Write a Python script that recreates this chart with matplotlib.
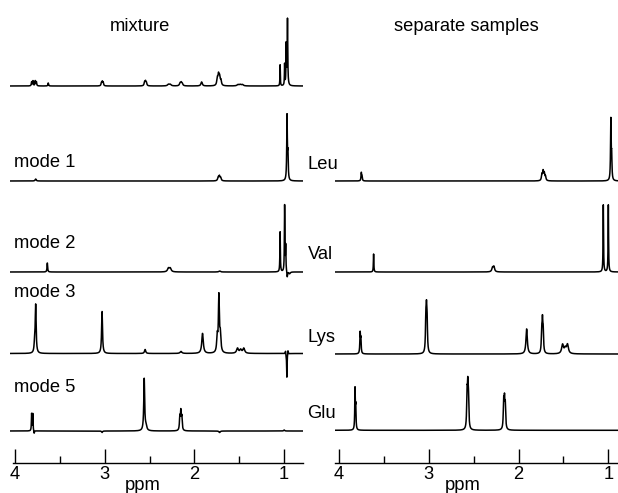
import numpy as np
import matplotlib
matplotlib.use("Agg")
import matplotlib.pyplot as plt
from matplotlib.ticker import MultipleLocator

plt.rcParams['font.family'] = ['Liberation Sans', 'DejaVu Sans']

# ---------------- data: peak lists (ppm, height in px, half-width ppm) -------------
mix_ppm = [3.815, 3.80, 3.775, 3.762, 3.63, 3.037, 3.027, 3.017, 2.556, 2.546, 2.536,
           2.29, 2.27, 2.16, 2.148, 2.136, 1.92, 1.745, 1.732, 1.72, 1.705,
           1.515, 1.49, 1.465, 1.045, 0.995, 0.977, 0.963]
mix_h = [4, 5, 5, 4, 3, 3, 4, 3, 3.5, 4, 3,
         1.5, 1.5, 2.5, 3, 2, 4, 7, 10, 8, 5,
         1.3, 1.3, 1.3, 21, 21, 40, 66]
mix_w = [0.004, 0.004, 0.004, 0.004, 0.004, 0.005, 0.005, 0.005, 0.006, 0.006, 0.006,
         0.012, 0.012, 0.008, 0.008, 0.008, 0.009, 0.007, 0.007, 0.007, 0.007,
         0.012, 0.012, 0.012, 0.0025, 0.0025, 0.003, 0.0035]

m1_ppm = [3.77, 1.735, 1.722, 1.708, 0.968, 0.958]
m1_h = [2, 3.5, 4.5, 3, 64, 24]
m1_w = [0.007, 0.007, 0.007, 0.007, 0.004, 0.004]

m2_ppm = [3.64, 2.29, 2.27, 1.72, 1.045, 0.995, 0.983, 0.966, 0.94]
m2_h = [9, 3.5, 3.5, 1, 40, 66, 25, -6, -2]
m2_w = [0.004, 0.012, 0.012, 0.01, 0.003, 0.003, 0.003, 0.004, 0.01]

m3_ppm = [3.782, 3.77, 3.03, 2.55, 2.15, 1.91, 1.746, 1.728, 1.712,
          1.52, 1.485, 1.45, 0.985, 0.97, 0.958]
m3_h = [8, 48, 42, 4, 2, 20, 16, 55, 18,
        5, 3.5, 5, 3, -24, 4]
m3_w = [0.006, 0.006, 0.006, 0.008, 0.012, 0.01, 0.007, 0.006, 0.008,
        0.012, 0.012, 0.012, 0.003, 0.003, 0.003]

m5_ppm = [3.815, 3.802, 3.787, 3.03, 2.56, 2.54, 2.163, 2.152, 2.141, 1.72, 1.0]
m5_h = [17, 17, -3, -1.5, 52, 4, 13, 18, 13, -1.5, 1]
m5_w = [0.003, 0.003, 0.004, 0.006, 0.006, 0.01, 0.005, 0.005, 0.005, 0.008, 0.006]

leu_ppm = [3.752, 3.744, 1.74, 1.727, 1.714, 1.70, 0.972, 0.963]
leu_h = [8, 4, 6, 9, 7, 4, 60, 22]
leu_w = [0.004, 0.004, 0.006, 0.006, 0.006, 0.006, 0.004, 0.004]

val_ppm = [3.615, 2.29, 2.275, 1.056, 1.0]
val_h = [18, 4, 5, 67, 67]
val_w = [0.003, 0.009, 0.009, 0.003, 0.003]

lys_ppm = [3.765, 3.757, 3.033, 3.026, 3.019, 1.91, 1.742, 1.734, 1.726,
           1.51, 1.48, 1.455]
lys_h = [20, 14, 30, 35, 27, 25, 20, 28, 20, 9, 5, 9]
lys_w = [0.004, 0.004, 0.005, 0.005, 0.005, 0.009, 0.005, 0.005, 0.005,
         0.012, 0.012, 0.012]

glu_ppm = [3.822, 3.814, 2.574, 2.566, 2.558, 2.166, 2.157, 2.148]
glu_h = [40, 22, 32, 37, 28, 26, 26, 22]
glu_w = [0.0035, 0.0035, 0.005, 0.005, 0.005, 0.005, 0.005, 0.005]

left_labels = ["", "mode 1", "mode 2", "mode 3", "mode 5"]
right_labels = ["Leu", "Val", "Lys", "Glu"]
tick_values = [4, 3, 2, 1]

# ---------------- layout ----------------
W, H = 618, 493
AXIS_Y = 463.3          # pixel row (from top) of the ppm axis line
FS = 13.2
left_base = [86, 181, 272, 353.5, 431]
right_base = [181, 272, 354, 430.3]

fig = plt.figure(figsize=(W / 100, H / 100), dpi=100)

def make_ax(x0, x1, ppm0, ppm1, spine0):
    ax = fig.add_axes([x0 / W, (H - AXIS_Y) / H, (x1 - x0) / W, AXIS_Y / H])
    ax.set_xlim(ppm0, ppm1)
    ax.set_ylim(0, AXIS_Y)
    for s in ['top', 'left', 'right']:
        ax.spines[s].set_visible(False)
    ax.spines['bottom'].set_linewidth(1.0)
    ax.spines['bottom'].set_bounds(spine0, ppm1)
    ax.set_yticks([])
    ax.set_xticks(tick_values)
    ax.xaxis.set_minor_locator(MultipleLocator(0.5))
    ax.tick_params(axis='x', which='major', direction='in', length=10, width=1.0,
                   labelsize=FS, pad=2)
    ax.tick_params(axis='x', which='minor', direction='in', length=5, width=1.0)
    ax.patch.set_alpha(0)
    return ax

axL = make_ax(10, 303, 4.056, 0.79, 4.02)
axR = make_ax(335, 620, 4.045, 0.87, 4.045)

x = np.linspace(4.1, 0.75, 24000)

def spectrum(ppm, h, w):
    y = np.zeros_like(x)
    for p, a, ww in zip(ppm, h, w):
        y += a / (1 + ((x - p) / ww) ** 2)
    return y

left_specs = [(mix_ppm, mix_h, mix_w), (m1_ppm, m1_h, m1_w), (m2_ppm, m2_h, m2_w),
              (m3_ppm, m3_h, m3_w), (m5_ppm, m5_h, m5_w)]
right_specs = [(leu_ppm, leu_h, leu_w), (val_ppm, val_h, val_w),
               (lys_ppm, lys_h, lys_w), (glu_ppm, glu_h, glu_w)]

for base, sp in zip(left_base, left_specs):
    axL.plot(x, AXIS_Y - base + spectrum(*sp), color='black', lw=1.1)
for base, sp in zip(right_base, right_specs):
    axR.plot(x, AXIS_Y - base + spectrum(*sp), color='black', lw=1.1)

# ---------------- text ----------------
def ftext(px, py, s, **kw):
    fig.text(px / W, 1 - py / H, s, fontsize=FS, **kw)

ftext(140, 30.7, "mixture", ha='center', va='baseline')
ftext(466, 30.7, "separate samples", ha='center', va='baseline')
left_label_y = [None, 166.7, 248.3, 296.7, 391.7]
for lab, yy in zip(left_labels, left_label_y):
    if lab:
        ftext(14, yy, lab, ha='left', va='baseline')
right_label_y = [169.3, 259, 341.7, 418.3]
for lab, yy in zip(right_labels, right_label_y):
    ftext(307.5, yy, lab, ha='left', va='baseline')

ftext(143, 490, "ppm", ha='center', va='baseline')
ftext(463, 490, "ppm", ha='center', va='baseline')

fig.savefig("out.png", dpi=100)
